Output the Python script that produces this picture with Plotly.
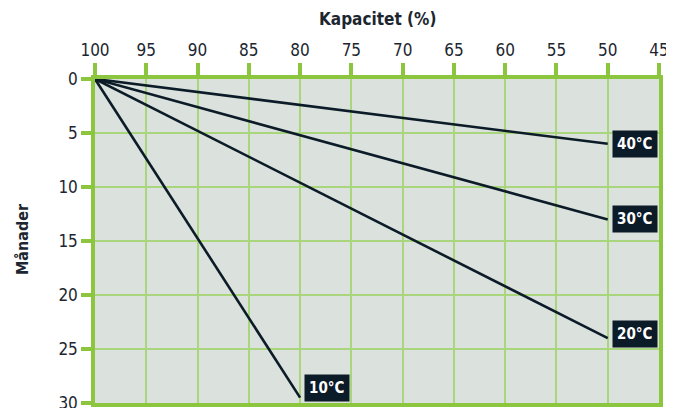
import plotly.graph_objects as go

series_names = ["40°C", "30°C", "20°C", "10°C"]
capacity_start = [100, 100, 100, 100]
capacity_end = [50, 50, 50, 80]
months_start = [0, 0, 0, 0]
months_end = [6, 13, 24, 29.5]
label_yshift = [0, 0, 4, 10]

x_ticks = [100, 95, 90, 85, 80, 75, 70, 65, 60, 55, 50, 45]
y_ticks = [0, 5, 10, 15, 20, 25, 30]

LINE = "#0c1b28"
GREEN = "#8cc63f"
GRID = "#a9d67c"
TXT = "#1c2630"
FONT = "DejaVu Sans Condensed, DejaVu Sans, sans-serif"

fig = go.Figure()
for name, x0, x1, y0, y1 in zip(series_names, capacity_start, capacity_end, months_start, months_end):
    fig.add_trace(go.Scatter(x=[x0, x1], y=[y0, y1], mode="lines",
                             line=dict(color=LINE, width=2.6), name=name,
                             showlegend=False, hoverinfo="skip", cliponaxis=False))

for name, x1, y1, ys in zip(series_names, capacity_end, months_end, label_yshift):
    fig.add_annotation(x=x1, y=y1, text="<b>%s</b>" % name, showarrow=False,
                       xanchor="left", yanchor="middle", xshift=4, yshift=ys,
                       bgcolor=LINE, borderpad=4,
                       font=dict(family=FONT, size=15, color="white"))

fig.add_annotation(xref="paper", yref="paper", x=0.5, y=1, yshift=60,
                   text="<b>Kapacitet (%)</b>", showarrow=False,
                   xanchor="center", yanchor="middle",
                   font=dict(family=FONT, size=17, color=TXT))
fig.add_annotation(xref="paper", yref="paper", x=0, xshift=-73, y=0.5, yshift=2,
                   text="<b>Månader</b>", showarrow=False, textangle=-90,
                   xanchor="center", yanchor="middle",
                   font=dict(family=FONT, size=16, color=TXT))

# page body has an 8px margin, so the figure is drawn 8px in from the top-left
fig.update_layout(
    width=666, height=400,
    margin=dict(l=87, r=15, t=71, b=5),
    paper_bgcolor="white", plot_bgcolor="#dbe1dc",
    font=dict(family=FONT, size=16, color=TXT),
)
fig.update_xaxes(range=[100, 45], side="top", tickvals=x_ticks, automargin=False,
                 showgrid=True, gridcolor=GRID, gridwidth=2,
                 showline=True, linecolor=GREEN, linewidth=3.5, mirror=True,
                 ticks="outside", ticklen=12, tickwidth=3.5, tickcolor=GREEN,
                 ticklabeloverflow="allow",
                 zeroline=False, tickfont=dict(size=17, color=TXT))
fig.update_yaxes(range=[30, 0], tickvals=y_ticks, automargin=False,
                 showgrid=True, gridcolor=GRID, gridwidth=2,
                 showline=True, linecolor=GREEN, linewidth=3.5, mirror=True,
                 ticks="outside", ticklen=10, tickwidth=3.5, tickcolor=GREEN,
                 ticklabeloverflow="allow",
                 zeroline=False, tickfont=dict(size=17, color=TXT))

fig.write_html("out.html")
